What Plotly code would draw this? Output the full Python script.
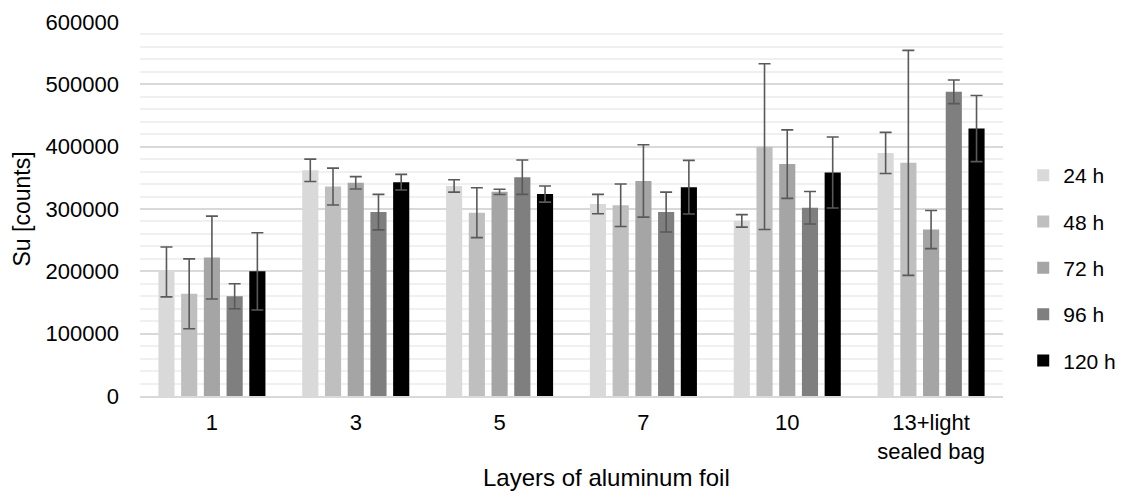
import plotly.graph_objects as go

categories = ["1", "3", "5", "7", "10", "13+light<br>sealed bag"]
series_names = ["24 h", "48 h", "72 h", "96 h", "120 h"]

v24 = [199000, 362000, 337000, 308000, 281000, 390000]
e24 = [40000, 18000, 10000, 15500, 10000, 33000]
v48 = [164000, 336000, 294000, 306000, 400000, 374000]
e48 = [56000, 29500, 40000, 34000, 133000, 180500]
v72 = [222000, 342000, 327500, 345000, 372000, 267000]
e72 = [66500, 10000, 4300, 58000, 55000, 30500]
v96 = [160000, 295000, 351000, 295000, 302000, 488000]
e96 = [20000, 28500, 27500, 32000, 26000, 19000]
v120 = [200000, 343000, 324000, 335000, 358500, 429000]
e120 = [62000, 12500, 13000, 43000, 57000, 53000]

colors = ["#d9d9d9", "#bfbfbf", "#a5a5a5", "#7f7f7f", "#000000"]
values = [v24, v48, v72, v96, v120]
errors = [e24, e48, e72, e96, e120]

FONT = "Liberation Sans"

fig = go.Figure()
for name, vals, errs, col in zip(series_names, values, errors, colors):
    fig.add_trace(go.Bar(
        x=categories, y=vals, name=name, legendgroup=name,
        marker=dict(color=col, line=dict(width=0)),
        error_y=dict(type="data", array=errs, visible=True,
                     color="#595959", thickness=1.6, width=6),
    ))

fig.update_layout(
    width=1123, height=497,
    margin=dict(l=140, r=120, t=22, b=101, autoexpand=False),
    paper_bgcolor="white", plot_bgcolor="white",
    barmode="group", bargap=0.21, bargroupgap=0.29,
    font=dict(family=FONT, size=22, color="#404040"),
    legend=dict(x=1.137, xanchor="right", y=0.342, yanchor="middle",
                font=dict(family=FONT, size=21, color="#000000"),
                tracegroupgap=16, bgcolor="rgba(0,0,0,0)"),
    xaxis=dict(
        type="category", showgrid=False, showline=True,
        linecolor="#d9d9d9", linewidth=1.5, ticks="",
        ticklabelstandoff=6,
        tickfont=dict(family=FONT, size=22, color="#000000"),
    ),
    yaxis=dict(
        range=[0, 600000], dtick=100000, tick0=0,
        showgrid=True, gridcolor="#d9d9d9", gridwidth=1.5,
        zeroline=False, showline=False, ticks="",
        tickformat="d", ticklabelstandoff=20,
        tickfont=dict(family=FONT, size=22, color="#000000"),
        minor=dict(dtick=20000, tick0=0, showgrid=True,
                   gridcolor="#f0f0f0", gridwidth=1.5),
        title=dict(text="Su [counts]",
                   font=dict(family=FONT, size=23, color="#000000"),
                   standoff=8),
    ),
    annotations=[dict(
        text="Layers of aluminum foil", xref="paper", yref="paper",
        x=0.541, y=-0.219, xanchor="center", yanchor="middle",
        showarrow=False, font=dict(family=FONT, size=24, color="#000000"),
    )],
)

fig.write_html("out.html")
